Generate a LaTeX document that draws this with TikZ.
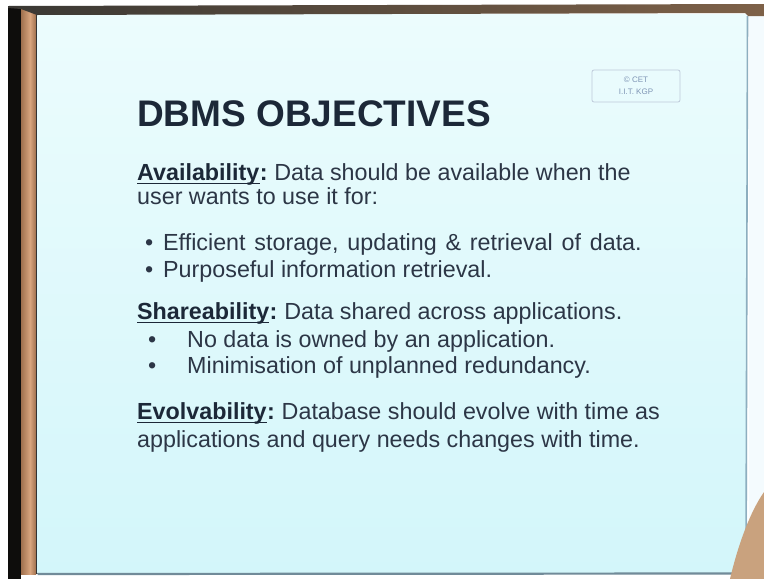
\documentclass[tikz,border=0pt]{standalone}
\usepackage{fontspec}
\setmainfont{Liberation Sans}
\definecolor{slidetop}{HTML}{ECFCFD}
\definecolor{slidebot}{HTML}{D3F6FA}
\definecolor{ink}{HTML}{1C2838}
\definecolor{bodyink}{HTML}{2C3646}
\definecolor{woodlight}{HTML}{D8A57E}
\definecolor{wooddark}{HTML}{A0704E}
\definecolor{frameblack}{HTML}{0E0D0C}
\definecolor{rimgrey}{HTML}{3A3834}
\definecolor{rimbrown}{HTML}{7E6148}
\definecolor{edgeblue}{HTML}{8DAEBF}
\definecolor{skin}{HTML}{C9A27E}
\definecolor{logoink}{HTML}{7E95B5}
\tikzset{
  title/.style={anchor=base west, inner sep=0pt, text=ink, font=\fontsize{37}{40}\selectfont\bfseries},
  label/.style={anchor=base west, inner sep=0pt, text=ink, font=\fontsize{23.3}{26}\selectfont\bfseries},
  bodytext/.style={anchor=base west, inner sep=0pt, text=bodyink, font=\fontsize{23.3}{26}\selectfont},
  bulletdot/.style={anchor=base west, inner sep=0pt, text=bodyink, font=\fontsize{23.3}{26}\selectfont},
  uline/.style={draw=ink, line width=1.8pt},
  logotext/.style={inner sep=0pt, text=logoink, font=\fontsize{8}{9}\selectfont}
}
\begin{document}
\begin{tikzpicture}[x=1pt, y=-1pt]
  % canvas
  \fill[white] (0,0) rectangle (764,579);
  \useasboundingbox (0,0) rectangle (764,579);

  % frame: black post and wooden edge on the left
  \fill[frameblack] (8,6) rectangle (21,579);
  \shade[left color=wooddark, right color=woodlight] (21,8) rectangle (30,574);
  \shade[left color=woodlight, right color=wooddark] (30,8) rectangle (36,574);
  \fill[black!80] (36,8) rectangle (37.5,574);

  % screen
  \shade[top color=slidetop, bottom color=slidebot] (37.5,14) rectangle (747,573);
  \fill[white!85!cyan!30] (749,14) rectangle (764,579);
  \draw[edgeblue, line width=1.6pt] (747.5,16) -- (746,573);
  \draw[edgeblue!80!black, line width=2.2pt] (37.5,574) -- (746,573.5);

  % top rim of the frame
  \shade[left color=rimgrey, right color=rimbrown]
    (8,6) -- (764,4) -- (764,16) -- (748,16) -- (745,13) -- (37,15) -- (21,9) -- (8,8) -- cycle;

  % hand at the bottom right
  \fill[skin] (764,492) .. controls (750,512) and (738,545) .. (730,579) -- (764,579) -- cycle;

  % logo box
  \draw[logoink!50, rounded corners=2pt, line width=0.8pt] (592,70) rectangle (680,102);
  \node[logotext] (logo1) at (636,80) {\textcopyright\ CET};
  \node[logotext] (logo2) at (636,92) {I.I.T. KGP};

  % heading
  \node[title] (head) at (137,126) {DBMS OBJECTIVES};

  % availability
  \node[label] (avail) at (137,180) {Availability};
  \draw[uline] ([yshift=-3.5pt]avail.base west) -- ([yshift=-3.5pt]avail.base east);
  \node[label] (availc) at (avail.base east) {:};
  \node[bodytext] (avail1) at (availc.base east) {\ Data should be available when the};
  \node[bodytext] (avail2) at (137,204) {user wants to use it for:};
  \node[bulletdot] (b1) at (145,250) {\textbullet};
  \node[bodytext] (b1t) at (163,250) {\spaceskip=8.8pt\relax Efficient storage, updating \& retrieval of data.};
  \node[bulletdot] (b2) at (145,277) {\textbullet};
  \node[bodytext] (b2t) at (163,277) {Purposeful information retrieval.};

  % shareability
  \node[label] (share) at (137,319) {Shareability};
  \draw[uline] ([yshift=-3.5pt]share.base west) -- ([yshift=-3.5pt]share.base east);
  \node[label] (sharec) at (share.base east) {:};
  \node[bodytext] (share1) at (sharec.base east) {\ Data shared across applications.};
  \node[bulletdot] (b3) at (148,347) {\textbullet};
  \node[bodytext] (b3t) at (187,347) {No data is owned by an application.};
  \node[bulletdot] (b4) at (148,373) {\textbullet};
  \node[bodytext] (b4t) at (187,373) {Minimisation of unplanned redundancy.};

  % evolvability
  \node[label] (evol) at (137,419) {Evolvability};
  \draw[uline] ([yshift=-3.5pt]evol.base west) -- ([yshift=-3.5pt]evol.base east);
  \node[label] (evolc) at (evol.base east) {:};
  \node[bodytext] (evol1) at (evolc.base east) {\ Database should evolve with time as};
  \node[bodytext] (evol2) at (137,447) {applications and query needs changes with time.};
\end{tikzpicture}
\end{document}
